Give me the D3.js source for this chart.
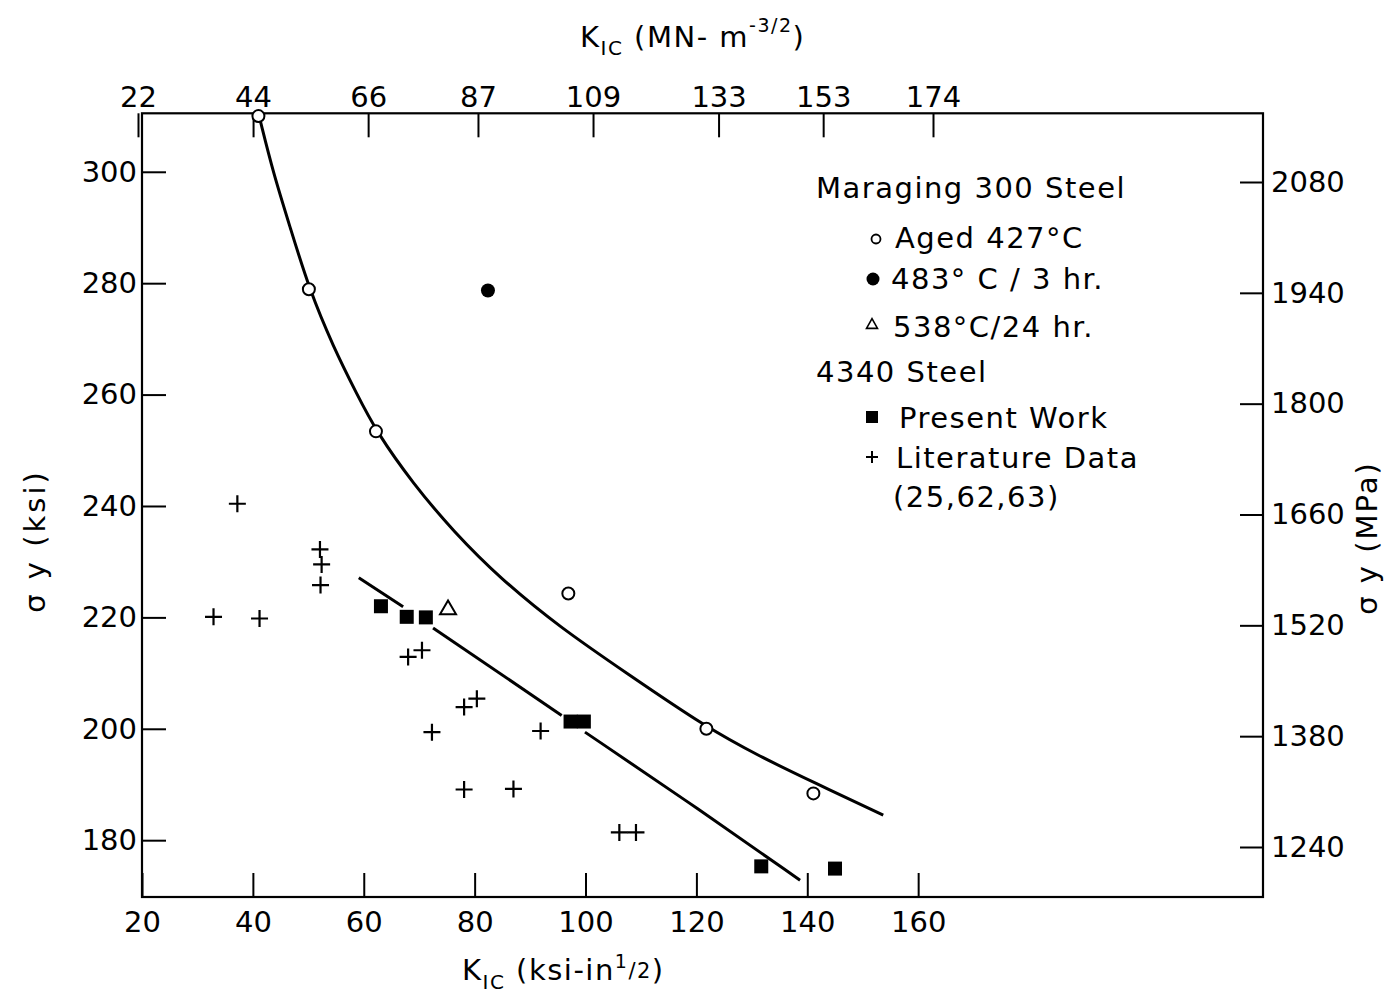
<!DOCTYPE html>
<html>
<head>
<meta charset="utf-8">
<script src="https://cdn.jsdelivr.net/npm/d3@7"></script>
<style>
  html, body { margin: 0; padding: 0; background: #fff; }
  svg { display: block; }
  text { font-family: "DejaVu Sans", sans-serif; fill: #000; }
</style>
</head>
<body>
<svg id="chart" width="1386" height="996"></svg>
<script>
// ---------------- DATA ----------------
const bottomTicks = [20, 40, 60, 80, 100, 120, 140, 160];          // K_IC ksi-in^1/2
const topTicks = [22, 44, 66, 87, 109, 133, 153, 174];             // K_IC MN-m^-3/2
const leftTicks = [180, 200, 220, 240, 260, 280, 300];             // sigma_y ksi
const rightTicks = [1240, 1380, 1520, 1660, 1800, 1940, 2080];     // sigma_y MPa

// Maraging 300 steel, aged 427 C (open circles)
const agedK = [41, 50.1, 62.2, 96.9, 121.8, 141.1];
const agedS = [310, 278.9, 253.4, 224.3, 200.0, 188.4];
// 483 C / 3 hr (filled circle)
const aged483K = [82.4];
const aged483S = [278.7];
// 538 C / 24 hr (triangle)
const aged538K = [75.2];
const aged538S = [221.7];
// 4340 steel, present work (filled squares)
const presentK = [63.1, 67.75, 71.2, 97.3, 99.7, 131.7, 145.0];
const presentS = [222.0, 220.1, 220.0, 201.3, 201.3, 175.3, 174.9];
// 4340 steel, literature data (plus)
const litK = [37.2, 52.1, 52.4, 52.2, 32.9, 41.2, 68.0, 70.5, 78.1, 80.4, 72.3, 91.9, 78.1, 87.0, 106.1, 109.1];
const litS = [240.4, 232.2, 229.5, 225.8, 220.1, 219.8, 212.9, 214.1, 203.9, 205.4, 199.4, 199.6, 189.1, 189.2, 181.4, 181.4];

// Fitted curve through maraging data
const upperCurveK = [41.3, 43.7, 46.7, 50.2, 54.5, 58.7, 62.3, 68.9, 76.2, 84.6, 95.4, 107.4, 121.7, 131.5, 141.1, 153.7];
const upperCurveS = [309.3, 299.7, 290.1, 278.8, 268.6, 260.2, 253.3, 244.0, 235.4, 227.0, 218.2, 210.0, 200.3, 195.0, 190.4, 184.5];
// Fitted line through 4340 data, drawn in three pieces (broken at the squares)
const lowerSeg1K = [59.1, 67.1];
const lowerSeg1S = [227.1, 221.9];
const lowerSeg2K = [72.5, 95.7];
const lowerSeg2S = [218.1, 202.4];
const lowerSeg3K = [99.9, 120.7, 138.7];
const lowerSeg3S = [199.4, 185.4, 172.8];

// ---------------- LAYOUT ----------------
const svg = d3.select("#chart");
const FS = 29;
const pLeft = 142, pRight = 1263, pTop = 113.3, pBottom = 897;

const x = d3.scaleLinear().domain([20, 222.2]).range([pLeft, pRight]);
const xTop = d3.scaleLinear().domain([22, 174]).range([138, 933]);
const y = d3.scaleLinear().domain([169.8, 310.5]).range([pBottom, pTop]);
const yR = d3.scaleLinear().domain([1240, 2080]).range([847, 182]);

const zip = (a, b) => a.map((v, i) => [v, b[i]]);

// Frame
svg.append("rect")
  .attr("x", pLeft).attr("y", pTop)
  .attr("width", pRight - pLeft).attr("height", pBottom - pTop)
  .attr("fill", "none").attr("stroke", "#000").attr("stroke-width", 2.2);

function styleAxis(g) {
  g.select(".domain").remove();
  g.selectAll(".tick line").attr("stroke", "#000").attr("stroke-width", 2);
  g.selectAll(".tick text").attr("font-size", FS).attr("font-family", "DejaVu Sans").attr("fill", "#000");
}

svg.append("g").attr("transform", `translate(0,${pBottom})`)
  .call(d3.axisBottom(x).tickValues(bottomTicks).tickSize(-24).tickPadding(14).tickFormat(d3.format("d")))
  .call(styleAxis);

svg.append("g").attr("transform", `translate(0,${pTop})`)
  .call(d3.axisTop(xTop).tickValues(topTicks).tickSize(-24).tickPadding(6).tickFormat(d3.format("d")))
  .call(styleAxis);

svg.append("g").attr("transform", `translate(${pLeft},0)`)
  .call(d3.axisLeft(y).tickValues(leftTicks).tickSize(-24).tickPadding(5).tickFormat(d3.format("d")))
  .call(styleAxis);

svg.append("g").attr("transform", `translate(${pRight},0)`)
  .call(d3.axisRight(yR).tickValues(rightTicks).tickSize(-23).tickPadding(8).tickFormat(d3.format("d")))
  .call(styleAxis);

// Axis titles
const topTitle = svg.append("text").attr("x", 580).attr("y", 47).attr("font-size", FS).attr("letter-spacing", 1.5);
topTitle.append("tspan").text("K");
topTitle.append("tspan").attr("font-size", 20).attr("dy", 8).text("IC");
topTitle.append("tspan").attr("dy", -8).text("  (MN- m");
topTitle.append("tspan").attr("font-size", 19).attr("dy", -15).text("-3/2");
topTitle.append("tspan").attr("dy", 15).text(")");

const botTitle = svg.append("text").attr("x", 462).attr("y", 980).attr("font-size", FS).attr("letter-spacing", 1.5);
botTitle.append("tspan").text("K");
botTitle.append("tspan").attr("font-size", 20).attr("dy", 9).text("IC");
botTitle.append("tspan").attr("dy", -9).text("  (ksi-in");
botTitle.append("tspan").attr("font-size", 19).attr("dy", -12).text("1");
botTitle.append("tspan").attr("font-size", 21).attr("dy", 10).text("/2");
botTitle.append("tspan").attr("dy", 2).text(")");

svg.append("text").attr("transform", "translate(45,541) rotate(-90)")
  .attr("text-anchor", "middle").attr("font-size", FS).attr("letter-spacing", 3)
  .text("σ y  (ksi)");
svg.append("text").attr("transform", "translate(1377,538) rotate(-90)")
  .attr("text-anchor", "middle").attr("font-size", FS).attr("letter-spacing", 2)
  .text("σ y (MPa)");

// Curves
const curveLine = d3.line().x(d => x(d[0])).y(d => y(d[1])).curve(d3.curveBasis);
svg.append("path").attr("d", curveLine(zip(upperCurveK, upperCurveS)))
  .attr("fill", "none").attr("stroke", "#000").attr("stroke-width", 3);
[[lowerSeg1K, lowerSeg1S], [lowerSeg2K, lowerSeg2S], [lowerSeg3K, lowerSeg3S]].forEach(([k, s]) => {
  svg.append("path").attr("d", curveLine(zip(k, s)))
    .attr("fill", "none").attr("stroke", "#000").attr("stroke-width", 3);
});

// Markers
function plus(g, cx, cy, h, sw) {
  g.append("path").attr("d", `M${cx - h},${cy}H${cx + h}M${cx},${cy - h}V${cy + h}`)
    .attr("stroke", "#000").attr("stroke-width", sw).attr("fill", "none");
}
function tri(g, cx, cy, s, sw) {
  const h = s * 0.8;
  g.append("path").attr("d", `M${cx},${cy - h / 2 - 1}L${cx + s / 2},${cy + h / 2}L${cx - s / 2},${cy + h / 2}Z`)
    .attr("stroke", "#000").attr("stroke-width", sw).attr("fill", "#fff");
}

const marks = svg.append("g");
zip(litK, litS).forEach(d => plus(marks, x(d[0]), y(d[1]), 8.5, 2.2));
zip(presentK, presentS).forEach(d => {
  marks.append("rect").attr("x", x(d[0]) - 7).attr("y", y(d[1]) - 7).attr("width", 14).attr("height", 14).attr("fill", "#000");
});
zip(agedK, agedS).forEach(d => {
  marks.append("circle").attr("cx", x(d[0])).attr("cy", y(d[1])).attr("r", 6).attr("fill", "#fff").attr("stroke", "#000").attr("stroke-width", 2);
});
zip(aged483K, aged483S).forEach(d => {
  marks.append("circle").attr("cx", x(d[0])).attr("cy", y(d[1])).attr("r", 7).attr("fill", "#000");
});
zip(aged538K, aged538S).forEach(d => tri(marks, x(d[0]), y(d[1]), 16, 2));

// Legend
const lg = svg.append("g").attr("font-size", FS).attr("letter-spacing", 1.5);
lg.append("text").attr("x", 816).attr("y", 198).text("Maraging 300 Steel");
lg.append("circle").attr("cx", 876).attr("cy", 239).attr("r", 4.5).attr("fill", "#fff").attr("stroke", "#000").attr("stroke-width", 1.8);
lg.append("text").attr("x", 895).attr("y", 248).text("Aged 427°C");
lg.append("circle").attr("cx", 873).attr("cy", 279).attr("r", 6.5).attr("fill", "#000");
lg.append("text").attr("x", 891).attr("y", 289).text("483° C / 3 hr.");
tri(lg, 872, 324, 11, 1.6);
lg.append("text").attr("x", 893).attr("y", 337).text("538°C/24 hr.");
lg.append("text").attr("x", 816).attr("y", 382).text("4340 Steel");
lg.append("rect").attr("x", 866).attr("y", 411).attr("width", 12).attr("height", 12).attr("fill", "#000");
lg.append("text").attr("x", 899).attr("y", 428).text("Present  Work");
plus(lg, 872, 457, 6, 2);
lg.append("text").attr("x", 896).attr("y", 468).text("Literature Data");
lg.append("text").attr("x", 893).attr("y", 507).text("(25,62,63)");
</script>
</body>
</html>
